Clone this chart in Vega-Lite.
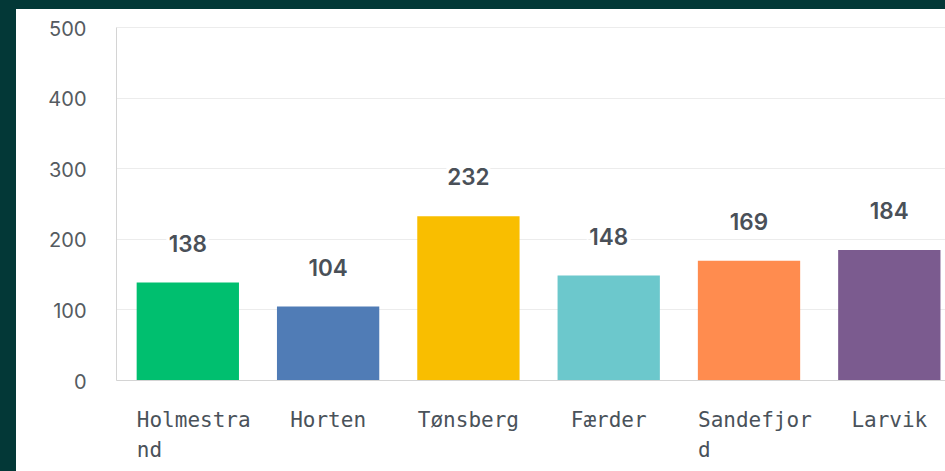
{
  "$schema": "https://vega.github.io/schema/vega-lite/v6.json",
  "autosize": "none",
  "padding": {"left": 116, "top": 109, "right": 0, "bottom": 91},
  "width": 829,
  "height": 271,
  "background": "#033837",
  "config": {"font": "Inter"},
  "view": {"fill": "white", "stroke": "white", "strokeWidth": 200},
  "data": {
    "values": [
      {"kommune": "Holmestrand", "antall": 138},
      {"kommune": "Horten", "antall": 104},
      {"kommune": "Tønsberg", "antall": 232},
      {"kommune": "Færder", "antall": 148},
      {"kommune": "Sandefjord", "antall": 169},
      {"kommune": "Larvik", "antall": 184}
    ]
  },
  "encoding": {
    "x": {
      "field": "kommune",
      "type": "nominal",
      "sort": null,
      "scale": {"paddingInner": 0.2708, "paddingOuter": 0.0898, "align": 0.82},
      "axis": {
        "title": null,
        "ticks": false,
        "grid": false,
        "labelAngle": 0,
        "labelOverlap": false,
        "labelFont": "DejaVu Sans Mono",
        "labelFontSize": 21,
        "labelColor": "#4a525a",
        "labelPadding": 29,
        "labelLineHeight": 30,
        "labelBaseline": "top",
        "labelLimit": 0,
        "domainColor": "#d4d4d4",
        "labelExpr": "length(datum.label) > 9 ? [substring(datum.label, 0, 9), substring(datum.label, 9)] : datum.label",
        "labelAlign": {"condition": {"test": "length(datum.value) > 9", "value": "left"}, "value": "center"},
        "labelOffset": {"condition": {"test": "length(datum.value) > 9", "value": -51}, "value": 0}
      }
    },
    "y": {
      "field": "antall",
      "type": "quantitative",
      "scale": {"domain": [0, 500], "nice": false, "range": [271, -82]},
      "axis": {
        "title": null,
        "values": [0, 100, 200, 300, 400, 500],
        "ticks": false,
        "labelPadding": 30,
        "labelFont": "Inter",
        "labelFontSize": 20,
        "labelOffset": 2,
        "labelColor": "#555b61",
        "domainColor": "#d4d4d4",
        "gridColor": "#ececec"
      }
    }
  },
  "layer": [
    {
      "mark": {"type": "bar"},
      "encoding": {
        "color": {
          "field": "kommune",
          "type": "nominal",
          "sort": null,
          "scale": {
            "domain": ["Holmestrand", "Horten", "Tønsberg", "Færder", "Sandefjord", "Larvik"],
            "range": ["#00bf6f", "#507cb6", "#f9be00", "#6cc8cc", "#ff8c4f", "#7b5b8f"]
          },
          "legend": null
        }
      }
    },
    {
      "mark": {"type": "text", "baseline": "alphabetic", "dy": -31, "font": "Inter", "fontSize": 22.5, "fontWeight": 600, "fill": "white", "stroke": "white", "strokeWidth": 7},
      "encoding": {"text": {"field": "antall", "type": "quantitative"}}
    },
    {
      "mark": {"type": "text", "baseline": "alphabetic", "dy": -31, "font": "Inter", "fontSize": 22.5, "fontWeight": 600, "fill": "#4a5058"},
      "encoding": {"text": {"field": "antall", "type": "quantitative"}}
    }
  ]
}
